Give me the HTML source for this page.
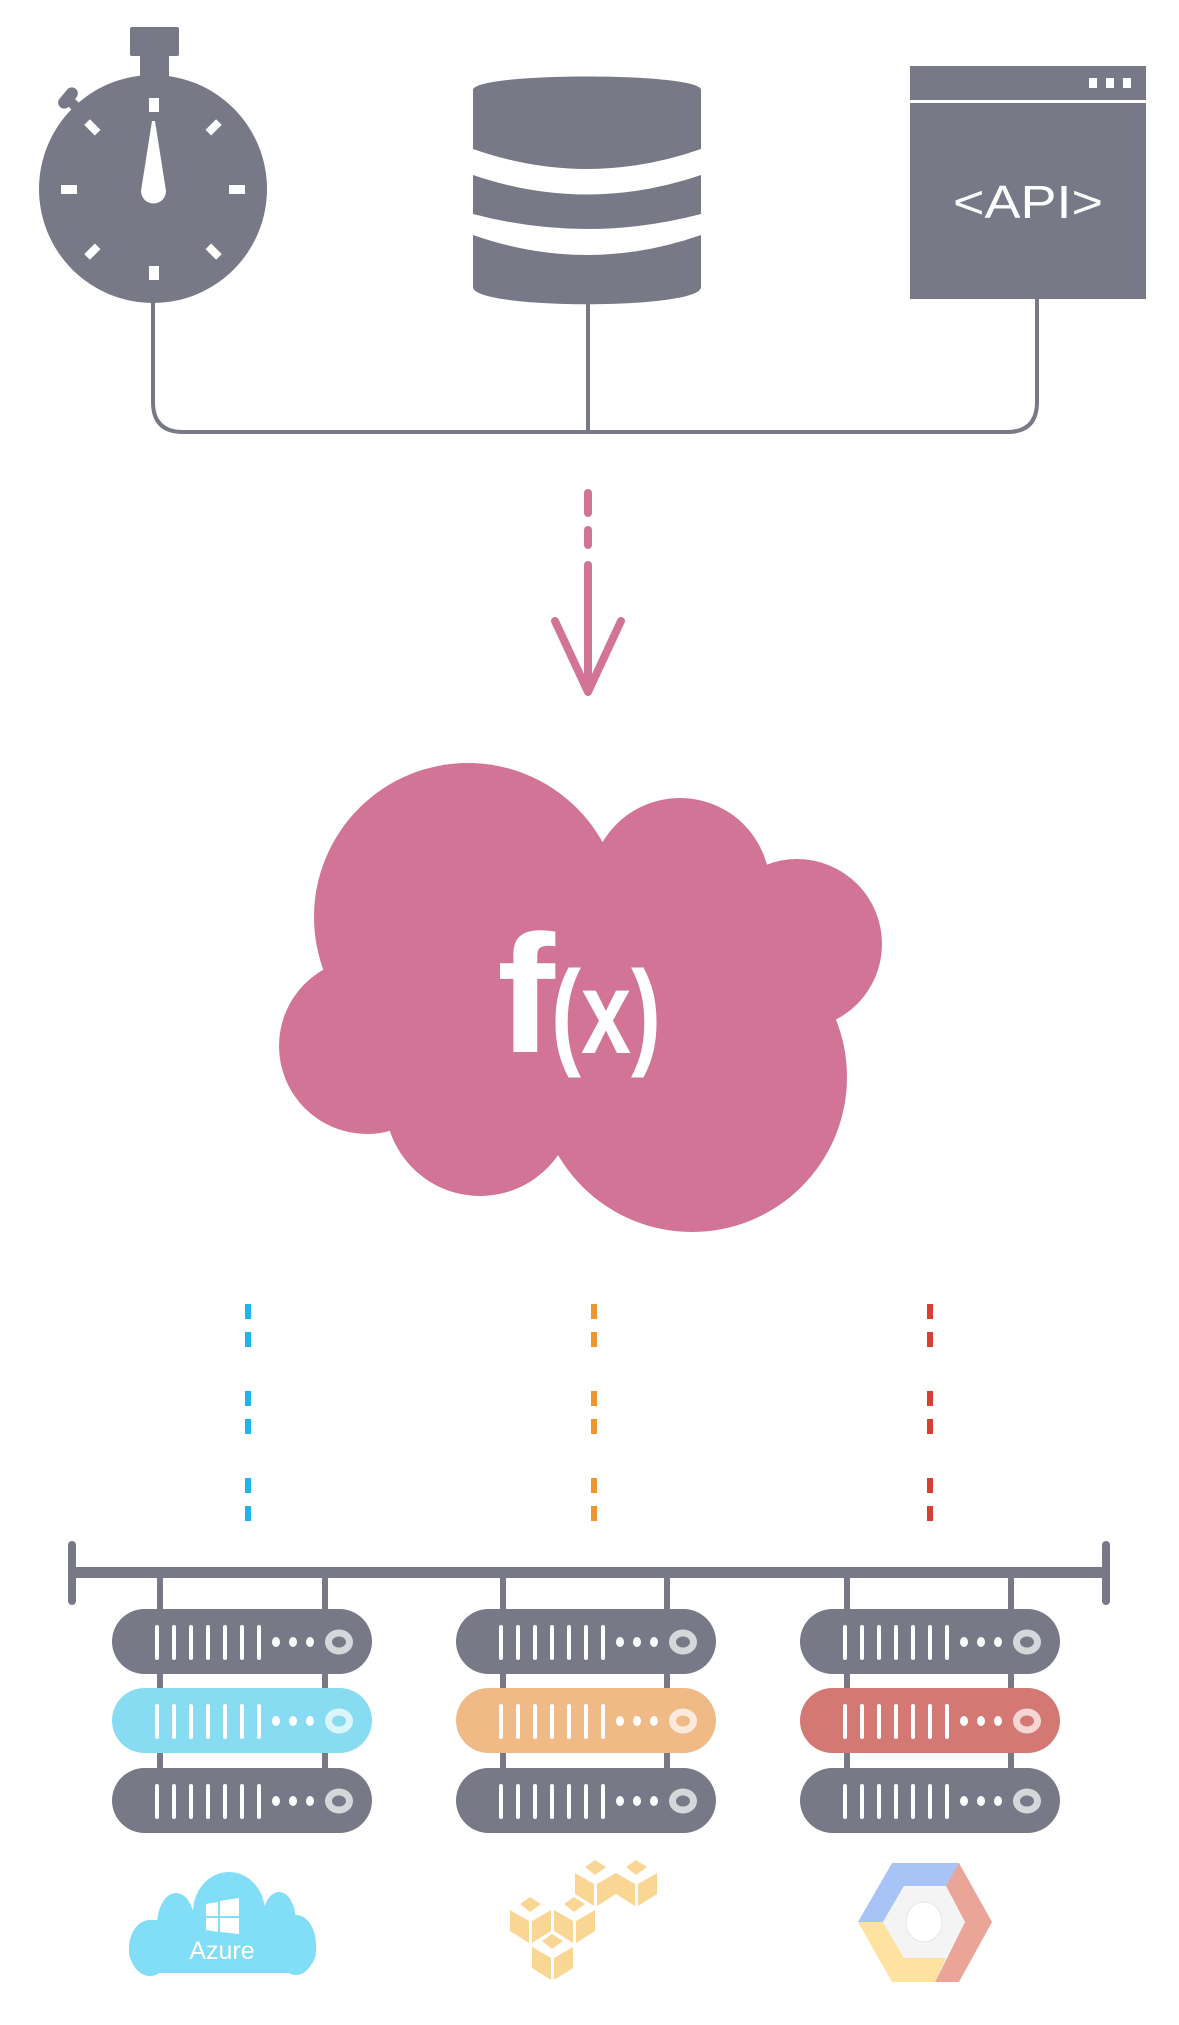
<!DOCTYPE html>
<html><head><meta charset="utf-8"><style>html,body{margin:0;padding:0;background:#fff}svg{display:block}</style></head>
<body>
<svg width="1179" height="2025" viewBox="0 0 1179 2025" xmlns="http://www.w3.org/2000/svg">
<defs>
<g id="srv">
<rect x="0" y="0" width="260" height="65" rx="32.5" fill="currentColor"/>
<g fill="#fff">
<rect x="43" y="16" width="4" height="35" rx="2"/><rect x="60" y="16" width="4" height="35" rx="2"/><rect x="77" y="16" width="4" height="35" rx="2"/><rect x="94" y="16" width="4" height="35" rx="2"/><rect x="111" y="16" width="4" height="35" rx="2"/><rect x="128" y="16" width="4" height="35" rx="2"/><rect x="145" y="16" width="4" height="35" rx="2"/>
<ellipse cx="164" cy="33" rx="4" ry="5"/><ellipse cx="181" cy="33" rx="4" ry="5"/><ellipse cx="198" cy="33" rx="4" ry="5"/>
</g>
<ellipse cx="227" cy="33" rx="10.5" ry="9" fill="none" stroke="#fff" stroke-opacity="0.7" stroke-width="7"/>
</g>
</defs>

<!-- stopwatch -->
<g fill="#777a86">
<circle cx="153" cy="189" r="114"/>
<rect x="130" y="27" width="49" height="29" rx="2"/>
<rect x="140" y="55" width="29" height="22"/>
<rect x="56" y="92" width="24" height="12" rx="6" transform="rotate(-50 68 98)"/>
<rect x="70" y="96" width="10" height="20" transform="rotate(-45 75 106)"/>
</g>
<g fill="#fff">
<rect x="149" y="98" width="10" height="14"/>
<rect x="149" y="266" width="10" height="14"/>
<rect x="61" y="185" width="16" height="9"/>
<rect x="229" y="185" width="16" height="9"/>
<rect x="85" y="123" width="15" height="8" transform="rotate(45 92 127)"/>
<rect x="206" y="123" width="15" height="8" transform="rotate(-45 214 127)"/>
<rect x="85" y="248" width="15" height="8" transform="rotate(-45 92 252)"/>
<rect x="206" y="248" width="15" height="8" transform="rotate(45 214 252)"/>
<path d="M152,121 L155,121 L166,191 A12.5,12.5 0 1 1 141,191 Z"/>
</g>

<!-- database -->
<path d="M473,90 C473,72 701,72 701,90 L701,287 C701,310 473,310 473,287 Z" fill="#777a86"/>
<path d="M473,149 Q587,189 701,149 L701,175 Q587,214 473,175 Z" fill="#fff"/>
<path d="M473,214 Q587,244 701,214 L701,235 Q587,275 473,235 Z" fill="#fff"/>

<!-- API window -->
<rect x="910" y="66" width="236" height="233" fill="#777a86"/>
<rect x="910" y="100" width="236" height="3" fill="#fff"/>
<g fill="#fff"><rect x="1089" y="78" width="8" height="10"/><rect x="1106" y="78" width="8" height="10"/><rect x="1123" y="78" width="8" height="10"/></g>
<text x="1028" y="218" font-family="Liberation Sans, sans-serif" font-size="46" font-weight="300" fill="#fff" text-anchor="middle" textLength="150" lengthAdjust="spacingAndGlyphs">&lt;API&gt;</text>

<!-- connector -->
<path d="M153,297 V402 Q153,432 183,432 H1007 Q1037,432 1037,402 V299 M588,301 V432" fill="none" stroke="#777a86" stroke-width="4"/>

<!-- arrow -->
<g stroke="#d27496" stroke-width="8" stroke-linecap="round" fill="none">
<line x1="588" y1="493" x2="588" y2="513"/>
<line x1="588" y1="530" x2="588" y2="545"/>
<line x1="588" y1="565" x2="588" y2="690"/>
<polyline points="555,621 588,692 621,621" stroke-linejoin="round"/>
</g>

<!-- cloud -->
<g fill="#d27496">
<circle cx="468" cy="917" r="154"/>
<circle cx="680" cy="888" r="90"/>
<circle cx="797" cy="944" r="85"/>
<circle cx="367" cy="1046" r="88"/>
<circle cx="480" cy="1101" r="95"/>
<circle cx="692" cy="1077" r="155"/>
<rect x="400" y="900" width="400" height="180"/>
</g>
<text x="526" y="1052" font-family="Liberation Sans, sans-serif" font-size="168" font-weight="bold" fill="#fff" text-anchor="middle" textLength="58" lengthAdjust="spacingAndGlyphs">f</text>
<text x="606" y="1053" font-family="Liberation Sans, sans-serif" font-size="118" font-weight="bold" fill="#fff" text-anchor="middle" textLength="110" lengthAdjust="spacingAndGlyphs">(x)</text>

<!-- dashed colored lines -->
<g stroke-width="6" stroke-dasharray="15 13 15 44">
<line x1="248" y1="1304" x2="248" y2="1524" stroke="#1ab7ea"/>
<line x1="594" y1="1304" x2="594" y2="1524" stroke="#f0962f"/>
<line x1="930" y1="1304" x2="930" y2="1524" stroke="#d9412f"/>
</g>

<!-- bus -->
<rect x="72" y="1567" width="1034" height="11" fill="#777a86"/>
<rect x="68" y="1541" width="8" height="64" rx="4" fill="#777a86"/>
<rect x="1102" y="1541" width="8" height="64" rx="4" fill="#777a86"/>
<g stroke="#777a86" stroke-width="6">
<line x1="160" y1="1578" x2="160" y2="1780"/><line x1="325" y1="1578" x2="325" y2="1780"/>
<line x1="503" y1="1578" x2="503" y2="1780"/><line x1="667" y1="1578" x2="667" y2="1780"/>
<line x1="847" y1="1578" x2="847" y2="1780"/><line x1="1011" y1="1578" x2="1011" y2="1780"/>
</g>
<g style="color:#777a86">
<use href="#srv" x="112" y="1609"/><use href="#srv" x="456" y="1609"/><use href="#srv" x="800" y="1609"/>
<use href="#srv" x="112" y="1768"/><use href="#srv" x="456" y="1768"/><use href="#srv" x="800" y="1768"/>
</g>
<use href="#srv" x="112" y="1688" style="color:#87dcf2"/>
<use href="#srv" x="456" y="1688" style="color:#f0ba86"/>
<use href="#srv" x="800" y="1688" style="color:#d37873"/>

<!-- Azure -->
<g fill="#82ddf7">
<rect x="129" y="1925" width="187" height="48" rx="22"/>
<ellipse cx="150" cy="1948" rx="21" ry="28"/>
<ellipse cx="176" cy="1925" rx="19" ry="32"/>
<ellipse cx="229" cy="1912" rx="36" ry="40"/>
<ellipse cx="279" cy="1922" rx="17" ry="30"/>
<ellipse cx="296" cy="1945" rx="20" ry="30"/>
<rect x="150" y="1920" width="150" height="50"/>
</g>
<g fill="#fff">
<path d="M206,1904 L218,1902 L218,1916 L206,1916 Z M220,1901 L239,1898 L239,1916 L220,1916 Z M206,1918 L218,1918 L218,1932 L206,1930 Z M220,1918 L239,1918 L239,1934 L220,1932 Z"/>
</g>
<text x="222" y="1959" font-family="Liberation Sans, sans-serif" font-size="25" fill="#fff" text-anchor="middle">Azure</text>

<!-- AWS cubes -->
<g id="cube" fill="#fad694">
<path d="M510,1910 L529,1921 L529,1943 L510,1931 Z"/>
<path d="M532,1921 L551,1910 L551,1931 L532,1943 Z"/>
<path d="M520,1904 L530,1897 L541,1904 L530,1912 Z"/>
</g>
<use href="#cube" x="44" y="0"/>
<use href="#cube" x="22" y="37"/>
<use href="#cube" x="65" y="-37"/>
<use href="#cube" x="106" y="-37"/>

<!-- GCP -->
<path d="M892,1863 L959,1863 L975,1922 L965,1922 L946,1886 L904,1886 L883,1922 L858,1922 Z" fill="#a8c4f6"/>
<path d="M959,1863 L992,1922 L959,1982 L935,1982 L965,1922 L946,1886 Z" fill="#eba598"/>
<path d="M858,1922 L883,1922 L904,1958 L946,1958 L935,1982 L892,1982 Z" fill="#fde39f"/>
<polygon points="904,1886 946,1886 965,1922 946,1958 904,1958 883,1922" fill="#f4f4f4"/>
<ellipse cx="924" cy="1922" rx="18" ry="20" fill="#fff" stroke="#e6e6e6" stroke-width="1"/>
</svg>
</body></html>
